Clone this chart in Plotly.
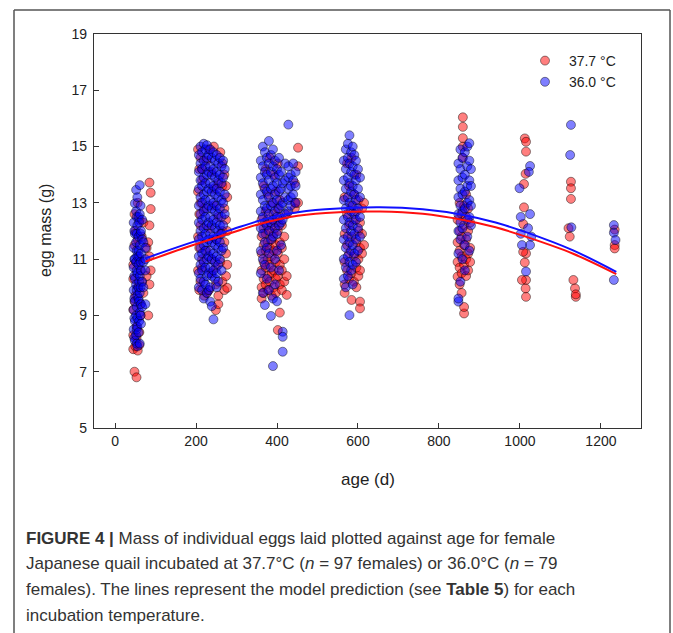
import plotly.graph_objects as go

# ---------------- data ----------------
# each cluster: list of (age in days, [egg masses in g]) columns
red_c1 = [(45, [7.8, 8.3, 9.2, 10.3, 10.8]), (48, [7.0, 9.5, 11.5, 12.6]), (50, [7.9, 9.7, 12.0]),
          (53, [6.8, 8.6, 10.9, 8.2]), (56, [7.75, 10.0, 13.0, 11.7]), (60, [7.95, 11.0, 12.4, 8.4]),
          (63, [9.4, 10.6, 9.0]), (66, [10.2, 11.8]), (70, [9.8, 12.3]), (78, [10.4, 11.4]),
          (82, [9.0, 11.6]), (85, [13.72, 12.2, 11.1, 10.1]), (88, [13.36, 12.78, 10.6])]
blue_c1 = [(46, [12.3, 11.4, 10.7, 9.9, 9.2, 8.5]), (47.5, [12.0, 11.0, 10.4, 9.6, 8.9, 8.2]),
           (49, [12.98, 11.9, 11.0, 10.3, 9.5, 8.8, 8.1]), (52, [13.46, 12.7, 11.6, 10.9, 10.1, 9.0, 8.3]),
           (53.5, [12.5, 11.9, 11.3, 10.6, 9.9, 9.3, 8.5, 8.0]), (55, [13.2, 12.2, 11.1, 10.5, 9.7, 8.9, 8.6, 7.9]),
           (58, [12.5, 11.8, 11.3, 10.8, 10.0, 9.6, 8.4]), (59.5, [12.3, 11.1, 10.2, 9.5, 8.8]),
           (61, [13.63, 12.6, 11.5, 10.4, 9.8, 9.1, 8.0]), (63, [12.9, 11.9, 10.9, 10.0, 9.0]),
           (64, [12.0, 11.2, 10.6, 9.4, 8.7]), (67, [12.4, 11.7, 10.2, 9.3]), (70, [11.6, 10.9, 10.0]),
           (75, [11.4, 11.0, 10.6, 9.4])]

red_c2 = [(205, [14.9, 13.4, 11.8, 10.6]), (208, [14.2, 12.6, 11.4, 9.9]), (211, [14.6, 13.0, 12.2, 10.2]),
          (215, [13.8, 11.0, 10.7, 14.2]), (220, [12.8, 9.7]), (226, [11.3, 9.8, 14.5]),
          (232, [12.1, 14.9, 9.9]), (238, [14.1, 10.5, 11.0]), (244, [12.9, 15.0, 13.5]),
          (249, [9.19, 11.7, 10.1, 10.7]), (255, [12.5, 13.7, 9.4, 9.7]), (260, [10.9, 14.8, 11.9]),
          (265, [13.6, 12.0, 10.2, 14.4]), (270, [11.6, 12.8, 14.0, 9.9]), (274, [12.4, 11.2, 13.6, 10.4]),
          (277, [13.2, 12.0, 9.98, 10.8])]
blue_c2 = [(207, [14.7, 14.1, 13.5, 12.9, 12.3, 11.7, 11.1, 10.5, 10.0]),
           (211, [15.0, 14.4, 13.8, 13.2, 12.6, 12.0, 11.4, 10.8, 10.3]),
           (215, [14.8, 14.2, 13.6, 13.0, 12.4, 11.8, 11.2, 10.6, 9.9]),
           (219, [15.1, 14.5, 13.9, 13.3, 12.7, 12.1, 11.5, 10.9, 10.2, 9.6]),
           (223, [14.9, 14.3, 13.7, 13.1, 12.5, 11.9, 11.3, 10.7, 10.1]),
           (227, [15.05, 14.6, 14.0, 13.4, 12.8, 12.2, 11.6, 11.0, 10.4, 9.8]),
           (231, [14.7, 14.1, 13.5, 12.9, 12.3, 11.7, 11.1, 10.5, 9.9]),
           (235, [14.9, 14.3, 13.7, 13.1, 12.5, 11.9, 11.3, 10.7, 10.0, 9.49]),
           (239, [14.6, 14.0, 13.4, 12.8, 12.2, 11.6, 11.0, 10.4, 9.33]),
           (243, [14.8, 14.2, 13.6, 13.0, 12.4, 11.8, 11.2, 10.6, 8.86]),
           (247, [14.5, 13.9, 13.3, 12.7, 12.1, 11.5, 10.9, 10.3]),
           (251, [14.7, 14.1, 13.5, 12.9, 12.3, 11.7, 11.1, 10.5, 10.0]),
           (255, [14.4, 13.8, 13.2, 12.6, 12.0, 11.4, 10.8, 10.2]),
           (259, [14.6, 14.0, 13.4, 12.8, 12.2, 11.6, 11.0]),
           (263, [14.3, 13.7, 13.1, 12.5, 11.9, 11.3, 10.6]),
           (267, [14.5, 13.9, 13.0, 12.2, 11.4]), (271, [14.2, 13.3, 12.6])]

red_c3 = [(362, [12.4, 11.8, 11.2, 10.6, 10.0, 9.6]), (367, [13.6, 12.1, 11.5, 10.9, 10.3, 9.8]),
          (372, [14.2, 12.7, 11.9, 11.3, 10.7, 10.1]), (377, [13.3, 12.4, 11.6, 11.0, 10.4, 9.9]),
          (382, [14.6, 12.0, 11.4, 10.8, 10.2]), (387, [13.0, 12.2, 11.7, 11.1, 10.5, 9.7]),
          (392, [14.0, 12.6, 11.9, 11.3, 10.6, 10.0]), (397, [13.4, 12.3, 11.5, 10.9, 10.3, 9.8]),
          (402, [14.4, 12.8, 12.0, 11.2, 10.4, 8.48]), (407, [13.1, 12.5, 11.6, 10.8, 10.1, 9.1]),
          (412, [12.2, 11.4, 10.6, 9.9]), (418, [11.8, 11.0, 10.2]), (424, [12.6, 9.73, 10.4]),
          (444, [13.7, 13.0, 12.8]), (452, [14.96, 13.0, 14.3])]
blue_c3 = [(360, [14.5, 13.9, 13.3, 12.7, 12.1, 11.3, 10.5]),
           (365, [15.0, 14.3, 13.7, 13.1, 12.5, 11.9, 11.0, 9.8]),
           (370, [14.8, 14.1, 13.5, 12.9, 12.3, 11.6, 10.8, 9.37]),
           (375, [14.6, 14.0, 13.4, 12.8, 12.2, 11.4, 10.3]),
           (380, [15.2, 14.4, 13.8, 13.2, 12.6, 12.0, 11.2, 9.9]),
           (385, [14.7, 14.1, 13.5, 12.9, 12.3, 11.7, 10.7, 8.98]),
           (390, [14.9, 14.3, 13.6, 13.0, 12.4, 11.8, 9.6, 7.2]),
           (395, [14.5, 13.9, 13.3, 12.7, 12.1, 11.0, 10.1]),
           (400, [14.2, 13.7, 13.1, 12.5, 11.9, 11.3, 9.5]),
           (405, [14.6, 14.0, 13.4, 12.8, 12.2, 10.6]),
           (410, [14.1, 13.5, 12.9, 12.3, 11.5]),
           (414, [13.7, 13.0, 12.4, 8.42, 8.24, 7.71]),
           (420, [14.4, 13.8, 13.2, 12.6]),
           (428, [14.3, 13.9, 13.5, 13.1, 12.7, 15.78]),
           (434, [14.0, 13.6, 13.2, 12.9]), (440, [14.4, 13.8, 13.3]), (446, [14.1, 13.6, 13.0])]

red_c4 = [(567, [13.2, 11.9, 10.9, 10.1, 9.8]), (573, [14.4, 12.6, 11.5, 10.6]),
          (578, [13.6, 12.2, 11.2, 10.3]), (584, [14.6, 12.9, 11.8, 10.5, 9.55]),
          (590, [13.3, 12.4, 11.1, 10.2]), (596, [14.0, 12.7, 11.6, 10.7, 10.0]),
          (601, [13.1, 12.0, 11.0, 10.4]), (605, [12.3, 11.4, 10.6, 9.49, 9.25]),
          (610, [12.8, 11.9, 11.2]), (615, [13.0, 11.5])]
blue_c4 = [(565, [14.5, 13.8, 13.1, 12.4, 11.7, 11.0, 10.3]),
           (570, [14.9, 14.2, 13.5, 12.8, 12.1, 11.4, 10.7, 10.0]),
           (575, [15.1, 14.6, 13.9, 13.2, 12.5, 11.8, 11.1, 10.4]),
           (579, [15.4, 14.4, 13.7, 13.0, 12.3, 11.6, 10.9, 9.01]),
           (583, [14.8, 14.1, 13.4, 12.7, 12.0, 11.3, 10.6]),
           (587, [15.0, 14.3, 13.6, 12.9, 12.2, 11.5, 10.8, 10.1]),
           (591, [14.7, 14.0, 13.3, 12.6, 11.9, 11.2]),
           (595, [14.5, 13.8, 13.1, 12.4, 11.7, 10.9]),
           (600, [14.2, 13.5, 12.8, 12.1, 11.3]), (605, [13.9, 13.2, 12.5, 11.8])]

red_c5 = [(846, [12.4, 11.6, 10.9, 10.38]), (851, [13.0, 12.0, 11.3, 10.7, 10.1]),
          (856, [12.6, 11.8, 11.1, 10.5, 9.8]), (859, [16.04, 15.7, 15.3, 15.0, 14.6]),
          (862, [12.9, 12.2, 11.5, 10.8, 9.07, 9.3]), (867, [13.3, 12.5, 11.7, 11.0, 10.4]),
          (872, [12.8, 12.0, 11.2, 10.6]), (877, [12.3, 11.4, 10.9])]
blue_c5 = [(848, [14.4, 13.8, 13.2, 12.6, 12.0, 11.2, 9.49, 9.6]),
           (853, [14.9, 14.2, 13.5, 12.9, 12.3, 11.7, 10.2]),
           (858, [14.6, 13.9, 13.3, 12.7, 12.1, 11.0]),
           (864, [14.8, 14.0, 13.4, 12.8, 11.5, 10.6]),
           (870, [15.0, 14.3, 13.6, 13.0, 12.4, 11.8]),
           (875, [15.12, 14.5, 13.8, 13.1, 12.5, 11.3]), (879, [14.2, 13.6, 12.9, 12.2])]

red_c6 = [(1012, [15.29, 10.88]), (1015, [15.17, 14.82, 11.2, 10.26, 9.66]), (1014, [14.03, 9.96]),
          (1010, [13.67, 12.84]), (1008, [12.25, 11.26]), (1005, [10.26])]
blue_c6 = [(1025, [14.31, 12.6, 11.5]), (1022, [14.1]), (999, [13.52]), (1002, [12.5, 11.9]),
           (1020, [12.1]), (1028, [11.8]), (1015, [10.56]), (1005, [11.5])]

red_c7 = [(1126, [13.75, 13.52, 13.14]), (1120, [12.1]), (1123, [11.8]), (1132, [10.26]),
          (1136, [9.96]), (1138, [9.66, 9.75])]
blue_c7 = [(1126, [15.77]), (1124, [14.7]), (1127, [12.13])]

red_c8 = [(1234, [12.05, 11.5, 11.38])]
blue_c8 = [(1232, [12.21, 11.94, 10.26]), (1236, [11.68])]

# model predictions
line_age = [75, 180, 284, 360, 432, 520, 654, 760, 860, 940, 1016, 1130, 1238]
line_red = [10.91, 11.44, 11.92, 12.26, 12.50, 12.64, 12.69, 12.61, 12.39, 12.13, 11.79, 11.20, 10.47]
line_blue = [11.03, 11.55, 12.03, 12.38, 12.62, 12.77, 12.84, 12.77, 12.57, 12.30, 11.95, 11.32, 10.55]

x_ticks = [0, 200, 400, 600, 800, 1000, 1200]
y_ticks = [5, 7, 9, 11, 13, 15, 17, 19]
labels = ["\u00a037.7 °C", "\u00a036.0 °C"]


def flatten(*clusters):
    xs, ys = [], []
    for cl in clusters:
        for age, masses in cl:
            for m in masses:
                xs.append(age)
                ys.append(m)
    return xs, ys


rx, ry = flatten(red_c1, red_c2, red_c3, red_c4, red_c5, red_c6, red_c7, red_c8)
bx, by = flatten(blue_c1, blue_c2, blue_c3, blue_c4, blue_c5, blue_c6, blue_c7, blue_c8)

# ---------------- figure ----------------
W, H = 673, 633
L, R, T, B = 94, 32, 34, 205
PW, PH = W - L - R, H - T - B


def px_x(px):
    return (px - L) / PW


def px_y(py):
    return (H - B - py) / PH


FONT = "Liberation Sans, Arial, sans-serif"
CAP = "Liberation Sans, Arial, sans-serif"

fig = go.Figure()
fig.add_trace(go.Scatter(x=rx, y=ry, mode="markers", name=labels[0],
                         marker=dict(size=9, color="rgba(255,0,0,0.5)",
                                     line=dict(color="rgba(0,0,0,0.55)", width=0.8))))
fig.add_trace(go.Scatter(x=bx, y=by, mode="markers", name=labels[1],
                         marker=dict(size=9, color="rgba(0,0,255,0.5)",
                                     line=dict(color="rgba(0,0,0,0.55)", width=0.8))))
fig.add_trace(go.Scatter(x=line_age, y=line_red, mode="lines", showlegend=False,
                         line=dict(color="#ff1010", width=2, shape="spline")))
fig.add_trace(go.Scatter(x=line_age, y=line_blue, mode="lines", showlegend=False,
                         line=dict(color="#1010ff", width=2, shape="spline")))

axis_common = dict(showline=True, linecolor="#333", linewidth=1.3, mirror=True,
                   ticks="inside", ticklen=5, tickcolor="#333", tickwidth=1,
                   showgrid=False, zeroline=False,
                   tickfont=dict(family=FONT, size=14, color="#222"))
fig.update_xaxes(range=[-52, 1299], tickvals=x_ticks, ticklabelstandoff=0, **axis_common)
fig.update_yaxes(range=[5, 19], tickvals=y_ticks, ticklabelstandoff=3, **axis_common)

ann = [
    dict(text="egg mass (g)", x=px_x(45), y=0.5, textangle=-90, font=dict(family=FONT, size=16, color="#222")),
    dict(text="age (d)", x=0.5, y=px_y(479), font=dict(family=FONT, size=17, color="#222")),
]
cap_lines = [
    "<b>FIGURE 4 |</b> Mass of individual eggs laid plotted against age for female",
    "Japanese quail incubated at 37.7°C (<i>n</i> = 97 females) or 36.0°C (<i>n</i> = 79",
    "females). The lines represent the model prediction (see <b>Table 5</b>) for each",
    "incubation temperature.",
]
for i, t in enumerate(cap_lines):
    ann.append(dict(text=t, x=px_x(24), y=px_y(538 + 25.7 * i), xanchor="left",
                    font=dict(family=CAP, size=17, color="#333")))
for a in ann:
    a.update(xref="paper", yref="paper", showarrow=False)
    a.setdefault("xanchor", "center")
    a.setdefault("yanchor", "middle")

frame = dict(type="line", xref="paper", yref="paper", line=dict(color="#555", width=1.5))
shapes = [
    dict(frame, x0=px_x(14), x1=px_x(14), y0=px_y(10), y1=px_y(640)),
    dict(frame, x0=px_x(14), x1=px_x(670), y0=px_y(10), y1=px_y(10)),
    dict(frame, x0=px_x(670), x1=px_x(670), y0=px_y(10), y1=px_y(640)),
]

fig.update_layout(
    width=W, height=H, margin=dict(l=L, r=R, t=T, b=B, autoexpand=False),
    paper_bgcolor="white", plot_bgcolor="white",
    annotations=ann, shapes=shapes,
    legend=dict(x=px_x(525), y=px_y(45), xanchor="left", yanchor="top",
                bgcolor="rgba(0,0,0,0)", font=dict(family=FONT, size=14, color="#222"),
                tracegroupgap=2),
)

fig.write_html("out.html", config={"displayModeBar": False},
               post_script="document.body.style.margin='0px';document.body.style.overflow='hidden';")
